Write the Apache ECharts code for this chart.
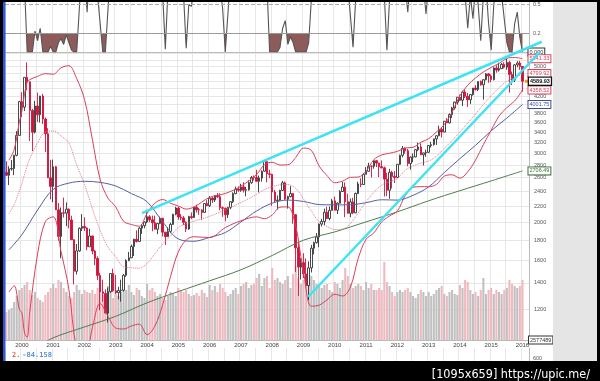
<!DOCTYPE html>
<html><head><meta charset="utf-8">
<script src="https://cdn.jsdelivr.net/npm/echarts@6/dist/echarts.min.js"></script>
<style>html,body{margin:0;padding:0;background:#fff}#c{width:600px;height:381px}</style>
</head><body><div id="c"></div>
<script>
// ---- categories (monthly, Jul 1999 .. Mar 2016) ----
const START_YEAR = 1999, START_MONTH = 7, CAT_COUNT = 201;
const months = [];
for (let i = 0; i < CAT_COUNT; i++) {
  const t = START_MONTH - 1 + i;
  months.push((START_YEAR + Math.floor(t / 12)) + '-' + String(t % 12 + 1).padStart(2, '0'));
}

// ---- monthly OHLC (Jul 1999 .. Jan 2016) ----
const opens = [
 2686,2638,2739,2746,2966,3336,
 4069,3940,4697,4573,3861,3401,3966,3767,4206,3673,3370,2598,
 2471,2773,2152,1840,2116,2110,2161,2027,1805,1499,1690,1931,
 1950,1934,1731,1845,1688,1616,1463,1328,1315,1172,1330,1479,
 1336,1321,1338,1341,1464,1596,1623,1735,1810,1787,1932,1960,
 2003,2066,2030,1994,1920,1987,2048,1887,1838,1897,1975,2097,
 2175,2062,2052,1999,1922,2068,2057,2185,2152,2151,2120,2233,
 2205,2306,2281,2340,2323,2179,2172,2091,2184,2258,2367,2432,
 2415,2464,2416,2422,2525,2605,2603,2546,2596,2702,2859,2661,
 2652,2390,2271,2279,2413,2523,2293,2326,2368,2092,1721,1536,
 1577,1476,1378,1529,1717,1774,1835,1979,2009,2122,2045,2145,
 2269,2147,2238,2398,2461,2257,2109,2255,2114,2369,2507,2498,
 2653,2700,2782,2781,2874,2835,2774,2756,2579,2415,2684,2620,
 2605,2814,2967,3092,3046,2827,2935,2940,3067,3116,2977,3010,
 3020,3142,3160,3268,3329,3456,3403,3626,3590,3771,3920,4060,
 4177,4104,4308,4199,4115,4243,4408,4370,4580,4493,4631,4792,
 4736,4635,4964,4901,4941,5070,4987,5128,4777,4620,5054,5109,
 5007];
const highs = [
 2864,2782,2887,2975,3421,4090,
 4303,4697,5132,4582,3900,4088,4289,4211,4260,3707,3480,2889,
 2893,2786,2241,2183,2313,2249,2170,2078,1811,1760,1940,2098,
 2059,1940,1924,1850,1700,1636,1486,1426,1347,1362,1479,1522,
 1467,1368,1427,1474,1609,1680,1754,1815,1907,1944,1978,2011,
 2153,2086,2080,2079,1993,2068,2052,1890,1942,1995,2102,2191,
 2191,2099,2075,2011,2078,2120,2192,2219,2177,2160,2239,2278,
 2333,2318,2344,2375,2372,2195,2182,2190,2264,2386,2468,2470,
 2509,2531,2464,2558,2626,2635,2724,2634,2714,2861,2865,2725,
 2661,2420,2343,2422,2551,2543,2339,2474,2373,2098,1774,1620,
 1667,1617,1588,1750,1784,1877,1986,2041,2168,2190,2194,2296,
 2326,2250,2416,2536,2529,2365,2300,2311,2382,2540,2592,2671,
 2767,2840,2797,2888,2888,2840,2878,2777,2673,2739,2710,2704,
 2817,2978,3134,3110,3080,2950,3000,3077,3196,3183,3012,3068,
 3154,3214,3271,3336,3533,3487,3629,3695,3798,3947,4069,4177,
 4246,4342,4372,4286,4247,4409,4486,4580,4610,4641,4810,4814,
 4777,4983,5042,5120,5111,5132,5232,5176,4860,5074,5163,5176,
 5007];
const lows = [
 2630,2490,2710,2640,2950,3330,
 3712,3850,4350,3227,3042,3374,3612,3599,3569,3026,2597,2289,
 2251,2151,1794,1619,2057,1955,1930,1805,1387,1470,1680,1900,
 1901,1696,1730,1656,1554,1423,1192,1253,1172,1108,1320,1328,
 1311,1271,1253,1330,1450,1590,1620,1640,1776,1780,1868,1930,
 1990,2002,1897,1917,1865,1977,1840,1750,1834,1876,1970,2084,
 2030,2025,1968,1889,1914,2036,2052,2118,2090,2025,2116,2200,
 2189,2240,2254,2310,2147,2065,2012,2050,2160,2240,2360,2393,
 2394,2383,2331,2409,2509,2560,2546,2386,2540,2693,2531,2593,
 2203,2253,2155,2273,2405,2281,2168,2315,1983,1493,1295,1428,
 1440,1375,1265,1488,1656,1765,1727,1951,1968,2041,2024,2144,
 2145,2100,2236,2390,2061,2105,2061,2098,2110,2360,2460,2495,
 2652,2695,2603,2742,2768,2609,2747,2329,2334,2298,2441,2520,
 2600,2805,2931,2993,2781,2726,2848,2934,3040,2970,2795,2940,
 3010,3106,3141,3154,3320,3294,3400,3589,3580,3695,3880,3999,
 4087,3967,4159,3946,4016,4216,4349,4330,4471,4117,4614,4547,
 4563,4610,4826,4857,4932,4946,4910,4292,4487,4567,4985,4907,
 4313];
const closes = [
 2638,2739,2746,2966,3336,4069,
 3940,4697,4573,3861,3401,3966,3767,4206,3673,3370,2598,2471,
 2773,2152,1840,2116,2110,2161,2027,1805,1499,1690,1931,1950,
 1934,1731,1845,1688,1616,1463,1328,1315,1172,1330,1479,1336,
 1321,1338,1341,1464,1596,1623,1735,1810,1787,1932,1960,2003,
 2066,2030,1994,1920,1987,2048,1887,1838,1897,1975,2097,2175,
 2062,2052,1999,1922,2068,2057,2185,2152,2151,2120,2233,2205,
 2306,2281,2340,2323,2179,2172,2091,2184,2258,2367,2432,2415,
 2464,2416,2422,2525,2605,2603,2546,2596,2702,2859,2661,2652,
 2390,2271,2279,2413,2523,2293,2326,2368,2092,1721,1536,1577,
 1476,1378,1529,1717,1774,1835,1979,2009,2122,2045,2145,2269,
 2147,2238,2398,2461,2257,2109,2255,2114,2369,2507,2498,2653,
 2700,2782,2781,2874,2835,2774,2756,2579,2415,2684,2620,2605,
 2814,2967,3092,3046,2827,2935,2940,3067,3116,2977,3010,3020,
 3142,3160,3268,3329,3456,3403,3626,3590,3771,3920,4060,4177,
 4104,4308,4199,4115,4243,4408,4370,4580,4493,4631,4792,4736,
 4635,4964,4901,4941,5070,4987,5128,4777,4620,5054,5109,5007,
 4589.93];

// ---- monthly volume (relative units) ----
const volume = [
 28,30,32,38,44,50,
 52,55,58,50,45,48,42,40,38,45,48,52,
 56,52,60,58,52,48,44,42,48,55,50,46,
 50,48,47,50,46,52,56,45,44,54,50,42,
 46,44,48,52,50,55,48,45,52,50,44,42,
 56,50,52,48,44,46,42,40,44,48,46,44,
 52,50,48,50,46,44,45,47,44,50,47,43,
 55,50,54,48,56,52,48,44,46,50,52,46,
 54,56,58,52,55,56,62,66,54,62,64,52,
 72,60,62,58,56,60,64,52,66,74,62,56,
 60,58,68,64,60,56,54,52,55,56,50,48,
 58,56,52,60,72,64,56,52,54,56,54,50,
 58,52,56,50,50,52,50,78,58,54,48,44,
 48,50,48,50,52,48,44,42,46,50,48,44,
 48,44,46,50,52,54,46,44,48,50,46,45,
 55,52,60,58,50,46,48,44,50,62,46,50,
 52,46,50,48,46,50,52,60,56,54,52,54,
 60];
const volumeLastLabel = '2577489';

// ---- top oscillator (0..1) ----
const oscValues = [
 0.85,0.9,0.75,0.9,0.95,0.9,
 0.85,0.7,0,0,0,0.22,0.12,0.25,0,0,0,0.06,
 0,0,0.1,0.14,0.08,0.18,0.1,0.02,0,0,0.45,0.9,
 0.85,0.42,0.9,0.85,0.75,0.6,0.3,0,0,0.45,0.85,0.95,
 0.9,0.85,0.8,0.9,0.95,0.95,0.9,0.85,0.9,0.95,0.85,0.8,
 0.75,0.8,0.85,0.7,0.75,0.8,0.6,0.03,0.65,0.85,0.9,0.95,
 0.85,0.8,0.6,0.04,0.5,0.48,0.7,0.9,0.85,0.8,0.9,0.95,
 0.9,0.85,0.9,0.8,0.7,0.45,0,0.4,0.8,0.9,0.95,0.9,
 0.9,0.85,0.8,0.9,0.95,0.9,0.85,0.8,0.9,0.95,0.7,0,
 0,0,0,0.05,0.25,0.33,0.08,0.16,0.1,0,0,0,
 0,0,0.1,0.55,0.9,0.95,0.9,0.85,0.9,0.95,0.9,0.85,
 0.8,0.9,0.85,0.9,0.8,0.7,0.38,0.05,0.55,0.85,0.9,0.95,
 0.9,0.85,0.9,0.8,0.75,0.8,0.85,0.6,0.02,0.55,0.85,0.9,
 0.95,0.9,0.85,0.7,0.42,0.75,0.9,0.85,0.8,0.75,0.7,0.4,
 0.75,0.9,0.95,0.9,0.85,0.9,0.95,0.9,0.85,0.9,0.95,0.9,
 0.8,0.7,0.6,0.25,0.6,0.35,0.7,0.5,0.12,0.6,0.7,0.3,
 0.02,0.5,0.8,0.7,0.6,0.35,0.1,0,0,0.3,0.42,0.15,
 0];
const oscLevels = [0.5, 0.2];

// ---- Bollinger bands (20) and moving averages, read at sample months ----
const bbUpper = [['1999-08',2882],['1999-10',3064],['1999-12',3611],['2000-01',3855],['2000-02',4265],['2000-03',4560],['2000-04',4632],['2000-07',4724],['2000-10',4799],['2001-01',4782],['2001-04',4968],['2001-07',5029],['2001-10',4661],['2002-01',4124],['2002-04',3262],['2002-07',2573],['2002-10',2306],['2003-01',2189],['2003-04',2011],['2003-07',1974],['2003-10',1954],['2004-01',2108],['2004-04',2238],['2004-07',2287],['2004-10',2237],['2005-01',2201],['2005-04',2162],['2005-07',2189],['2006-01',2316],['2006-07',2370],['2007-01',2474],['2007-07',2649],['2007-10',2807],['2008-01',2848],['2008-04',2802],['2008-07',2806],['2008-10',2928],['2008-12',3069],['2009-01',3096],['2009-04',3056],['2009-07',2784],['2009-10',2634],['2010-01',2525],['2010-04',2548],['2010-07',2606],['2010-10',2610],['2011-01',2701],['2011-04',2892],['2011-07',2973],['2011-10',3004],['2012-01',3036],['2012-04',3098],['2012-07',3110],['2012-10',3203],['2013-01',3272],['2013-04',3404],['2013-07',3556],['2013-10',3825],['2014-01',4214],['2014-04',4484],['2014-07',4681],['2014-10',4845],['2015-01',4978],['2015-04',5097],['2015-07',5249],['2015-10',5278],['2016-01',5241.33]];
const bbMiddle = [['1999-08',2104],['1999-10',2220],['1999-12',2405],['2000-01',2513],['2000-02',2653],['2000-03',2788],['2000-04',2906],['2000-07',3192],['2000-10',3405],['2001-01',3424],['2001-04',3326],['2001-07',3189],['2001-10',2803],['2002-01',2502],['2002-04',2168],['2002-07',1906],['2002-10',1728],['2003-01',1631],['2003-04',1539],['2003-07',1530],['2003-10',1526],['2004-01',1570],['2004-04',1662],['2004-07',1759],['2004-10',1845],['2005-01',1941],['2005-04',1982],['2005-07',2013],['2006-01',2072],['2006-07',2154],['2007-01',2246],['2007-07',2357],['2007-10',2425],['2008-01',2468],['2008-04',2494],['2008-07',2498],['2008-10',2442],['2008-12',2351],['2009-01',2294],['2009-04',2138],['2009-07',2006],['2009-10',1950],['2010-01',1917],['2010-04',1922],['2010-07',1986],['2010-10',2114],['2011-01',2256],['2011-04',2386],['2011-07',2489],['2011-10',2540],['2012-01',2586],['2012-04',2718],['2012-07',2784],['2012-10',2835],['2013-01',2869],['2013-04',2952],['2013-07',3090],['2013-10',3235],['2014-01',3404],['2014-04',3588],['2014-07',3783],['2014-10',4003],['2015-01',4208],['2015-04',4417],['2015-07',4589],['2015-10',4682],['2016-01',4799.92]];
const bbLower = [['1999-08',1326],['1999-10',1376],['1999-12',1199],['2000-01',1171],['2000-02',1041],['2000-03',1016],['2000-04',1180],['2000-07',1660],['2000-10',2011],['2001-01',2066],['2001-04',1684],['2001-07',1349],['2001-10',945],['2002-01',880],['2002-04',1074],['2002-07',1240],['2002-10',1150],['2003-01',1073],['2003-04',1067],['2003-07',1086],['2003-10',1098],['2004-01',1032],['2004-04',1086],['2004-07',1231],['2004-10',1453],['2005-01',1681],['2005-04',1802],['2005-07',1837],['2006-01',1828],['2006-07',1938],['2007-01',2018],['2007-07',2065],['2007-10',2043],['2008-01',2088],['2008-04',2186],['2008-07',2190],['2008-10',1956],['2008-12',1633],['2009-01',1492],['2009-04',1220],['2009-07',1228],['2009-10',1266],['2010-01',1309],['2010-04',1296],['2010-07',1366],['2010-10',1618],['2011-01',1810],['2011-04',1880],['2011-07',2005],['2011-10',2076],['2012-01',2136],['2012-04',2338],['2012-07',2458],['2012-10',2467],['2013-01',2466],['2013-04',2500],['2013-07',2624],['2013-10',2645],['2014-01',2594],['2014-04',2692],['2014-07',2885],['2014-10',3161],['2015-01',3438],['2015-04',3737],['2015-07',3929],['2015-10',4086],['2016-01',4358.52]];
const ma50 = [['1999-08',1700],['2000-01',1860],['2000-07',2150],['2001-01',2429],['2001-07',2519],['2002-01',2546],['2002-07',2530],['2003-01',2476],['2003-07',2368],['2004-01',2257],['2004-07',2004],['2005-01',1813],['2005-07',1789],['2006-01',1830],['2006-07',1883],['2007-01',2004],['2007-07',2138],['2008-01',2238],['2008-07',2280],['2009-01',2261],['2009-07',2220],['2010-01',2216],['2010-07',2218],['2011-01',2245],['2011-07',2284],['2012-01',2279],['2012-07',2344],['2013-01',2464],['2013-07',2680],['2014-01',2910],['2014-07',3147],['2015-01',3428],['2015-07',3695],['2016-01',4001.75]];
const ma200 = [['2000-07',960],['2001-01',1013],['2002-01',1080],['2003-01',1150],['2004-01',1245],['2005-01',1330],['2006-01',1417],['2007-01',1512],['2008-01',1645],['2009-01',1800],['2010-01',1890],['2011-01',2005],['2012-01',2127],['2013-01',2270],['2014-01',2409],['2015-01',2552],['2016-01',2706.49]];

// ---- trend lines: [month index from Jul 1999, price] ----
const trendLines = [
  {from: [52.05, 2112], to: [205.4, 5790]},
  {from: [115.8, 1290], to: [204.7, 5452]}
];

// ---- price grid lines and tick labels ----
const gridValues = [1200,1400,1600,1800,2000,2200,2400,2600,2800,3000,3200,3400,3600,3800,4000,4200,4400,4600,4800,5000,5200,5400];
const labeledTicks = [1200,1400,1600,1800,2000,2200,2400,2600,2800,3000,3200,3400,3600,3800,4200,5000];
const bottomPanelTick = 600;
const bottomPanelText = ['2.', '-84.158'];
const watermark = '[1095x659] https://upic.me/';

// ---------------- chart ----------------
const FONT = 'Liberation Sans, Arial, sans-serif';
const catW = 524 / CAT_COUNT;
const isJan = (i, v) => String(v).slice(5) === '01';
const isHalf = (i, v) => { const m = String(v).slice(5); return m === '01' || m === '07'; };
const GRID_LINE = '#e7e7e7';
const lastIdx = closes.length - 1;
const candleData = closes.map((c, i) => [opens[i], c, lows[i], highs[i]]);
const volData = volume.map((v, i) => ({value: v, itemStyle: {color: closes[i] < opens[i] ? '#efb9c0' : '#c0c0c0'}}));

function box(color, extra) {
  return Object.assign({show: true, distance: 6, fontSize: 5.5, fontFamily: FONT, color: color,
    backgroundColor: '#fff', borderColor: color, borderWidth: 1, padding: [1, 1, 0, 1]}, extra || {});
}
function priceLine(data, color, width, type, labelColor) {
  return {type: 'line', xAxisIndex: 2, yAxisIndex: 2, data: data, smooth: 0.35, symbol: 'none', silent: true, z: 4,
    lineStyle: {color: color, width: width, type: type},
    endLabel: box(labelColor, {formatter: p => Number(p.value[1]).toFixed(2)})};
}
const catAxisBase = (grid, extra) => Object.assign({type: 'category', gridIndex: grid, data: months, boundaryGap: true,
  axisTick: {show: false}, axisLabel: {show: false}, axisLine: {show: true, lineStyle: {color: '#bbb'}},
  splitLine: {show: true, interval: isHalf, lineStyle: {color: GRID_LINE}}}, extra || {});

const option = {
  animation: false,
  backgroundColor: '#ffffff',
  textStyle: {fontFamily: FONT},
  grid: [
    {left: 5, right: 71, top: 2, height: 50},
    {left: 5, right: 71, top: 33, height: 19},
    {left: 5, right: 71, top: 50.5, height: 289.5},
    {left: 5, width: 555, top: 340 - 289.5 * Math.log(7) / Math.log(5.5), height: 289.5 * Math.log(7) / Math.log(5.5)},
    {left: 5, right: 71, top: 348, height: 25}
  ],
  xAxis: [
    catAxisBase(0),
    {type: 'category', gridIndex: 1, data: months, show: false},
    catAxisBase(2, {axisLabel: {show: true, interval: isJan, formatter: v => v.slice(0, 4), fontSize: 6, color: '#444', margin: 2}}),
    {type: 'value', gridIndex: 3, min: -0.5, max: -0.5 + 555 / catW, show: false},
    catAxisBase(4, {position: 'top'})
  ],
  yAxis: [
    {type: 'value', gridIndex: 0, min: 0, max: 50 / 95, position: 'right', axisLine: {show: true, lineStyle: {color: '#bbb'}}, axisTick: {show: false}, axisLabel: {show: false}, splitLine: {show: false}},
    {type: 'value', gridIndex: 1, min: 0, max: 0.2, show: false},
    {type: 'log', gridIndex: 2, min: 1000, max: 5500, position: 'right', axisLine: {show: true, lineStyle: {color: '#bbb'}}, axisTick: {show: false}, axisLabel: {show: false}, splitLine: {show: false}},
    {type: 'value', gridIndex: 2, min: 0, max: 289.5, show: false},
    {type: 'log', gridIndex: 3, min: 1000, max: 7000, show: false},
    {type: 'value', gridIndex: 4, min: 0, max: 1000, interval: 200, position: 'right', axisLine: {show: true, lineStyle: {color: '#bbb'}}, axisTick: {show: false}, splitLine: {show: false},
      axisLabel: {fontSize: 5.5, color: '#555', margin: 4, formatter: v => v === bottomPanelTick ? String(v) : ''}}
  ],
  title: [
    {text: '{a|' + bottomPanelText[0] + '} {b|' + bottomPanelText[1] + '}', left: 7, top: 347,
      textStyle: {fontSize: 7, rich: {a: {color: '#e06a6a', fontSize: 7, fontFamily: 'DejaVu Sans Mono'}, b: {color: '#5f90d8', fontSize: 7, fontFamily: 'DejaVu Sans Mono'}}}},
    {text: watermark, right: 5, top: 363, z: 60, textStyle: {color: '#ffffff', fontSize: 12.5, fontWeight: 'normal', fontFamily: 'DejaVu Sans Condensed, Liberation Sans Narrow, sans-serif'}}
  ],
  graphic: [
    {type: 'rect', z: 50, shape: {x: 553, y: 0, width: 44, height: 361}, style: {fill: '#e5e5e5'}},
    {type: 'rect', z: 50, shape: {x: 0, y: 0, width: 600, height: 2}, style: {fill: '#000'}},
    {type: 'rect', z: 50, shape: {x: 0, y: 0, width: 3, height: 381}, style: {fill: '#000'}},
    {type: 'rect', z: 50, shape: {x: 3, y: 2, width: 2.5, height: 359}, style: {fill: '#2f55d9'}},
    {type: 'rect', z: 50, shape: {x: 597, y: 0, width: 3, height: 381}, style: {fill: '#000'}},
    {type: 'rect', z: 50, shape: {x: 0, y: 361, width: 600, height: 20}, style: {fill: '#000'}}
  ],
  series: [
    {type: 'line', xAxisIndex: 0, yAxisIndex: 0, data: oscValues, symbol: 'none', silent: true, clip: true, z: 3,
      lineStyle: {color: '#555', width: 1.1},
      endLabel: box('#333', {formatter: p => Number(p.value).toFixed(3)}),
      markLine: {silent: true, symbol: 'none', animation: false,
        label: {position: 'end', fontSize: 5.5, color: '#555', distance: 4},
        data: [
          {yAxis: oscLevels[0], lineStyle: {type: 'dashed', color: '#aaa', width: 1}, label: {formatter: String(oscLevels[0])}},
          {yAxis: oscLevels[1], lineStyle: {type: 'solid', color: '#999', width: 1}, label: {formatter: String(oscLevels[1])}}
        ]}},
    {type: 'line', xAxisIndex: 1, yAxisIndex: 1, data: oscValues, symbol: 'none', silent: true, clip: true, z: 2,
      lineStyle: {width: 0}, areaStyle: {origin: 'end', color: '#8d5b59', opacity: 1}},
    {type: 'bar', xAxisIndex: 2, yAxisIndex: 3, data: volData, barWidth: '80%', z: 1, silent: true,
      markPoint: {silent: true, animation: false, symbol: 'rect', symbolSize: 1, itemStyle: {color: 'rgba(0,0,0,0)'},
        data: [{coord: [months[lastIdx], 0], label: box('#333', {position: 'right', distance: 6, formatter: volumeLastLabel})}]}},
    {type: 'candlestick', xAxisIndex: 2, yAxisIndex: 2, data: candleData, barWidth: 2, z: 3, silent: true,
      itemStyle: {color: '#ffffff', color0: '#d3123c', borderColor: '#333', borderColor0: '#d3123c', borderWidth: 0.9},
      markLine: {silent: true, symbol: 'none', animation: false, z: 0,
        lineStyle: {color: GRID_LINE, type: 'solid', width: 1},
        label: {position: 'end', fontSize: 5.5, color: '#555', distance: 5},
        data: gridValues.map(v => ({yAxis: v, label: {show: labeledTicks.indexOf(v) >= 0, formatter: String(v)}}))},
      markPoint: {silent: true, animation: false, symbol: 'rect', symbolSize: [3, 3], symbolOffset: [4, 0], itemStyle: {color: '#f29b1f'},
        data: [{coord: [months[lastIdx], closes[lastIdx]],
          label: box('#111', {position: 'right', distance: 1, fontWeight: 'bold', borderWidth: 1.3, formatter: closes[lastIdx].toFixed(2)})}]}},
    priceLine(ma200, '#4f7d4f', 1, 'solid', '#3f6e3f'),
    priceLine(ma50, '#55619f', 1, 'solid', '#3d4c9c'),
    priceLine(bbLower, '#d8415c', 1, 'solid', '#d8415c'),
    priceLine(bbMiddle, '#e07a8a', 1, 'dotted', '#d8415c'),
    priceLine(bbUpper, '#d8415c', 1, 'solid', '#d8415c'),
    {type: 'line', xAxisIndex: 3, yAxisIndex: 4, data: [], silent: true, z: 6,
      markLine: {silent: true, animation: false, symbol: ['none', 'arrow'], symbolSize: [1, 10],
        lineStyle: {color: '#3fe3f3', width: 2.5, type: 'solid'}, label: {show: false},
        data: trendLines.map(t => [{coord: t.from}, {coord: t.to}])}}
  ]
};
const chart = echarts.init(document.getElementById('c'), null, {renderer: 'canvas'});
chart.setOption(option);
</script></body></html>
